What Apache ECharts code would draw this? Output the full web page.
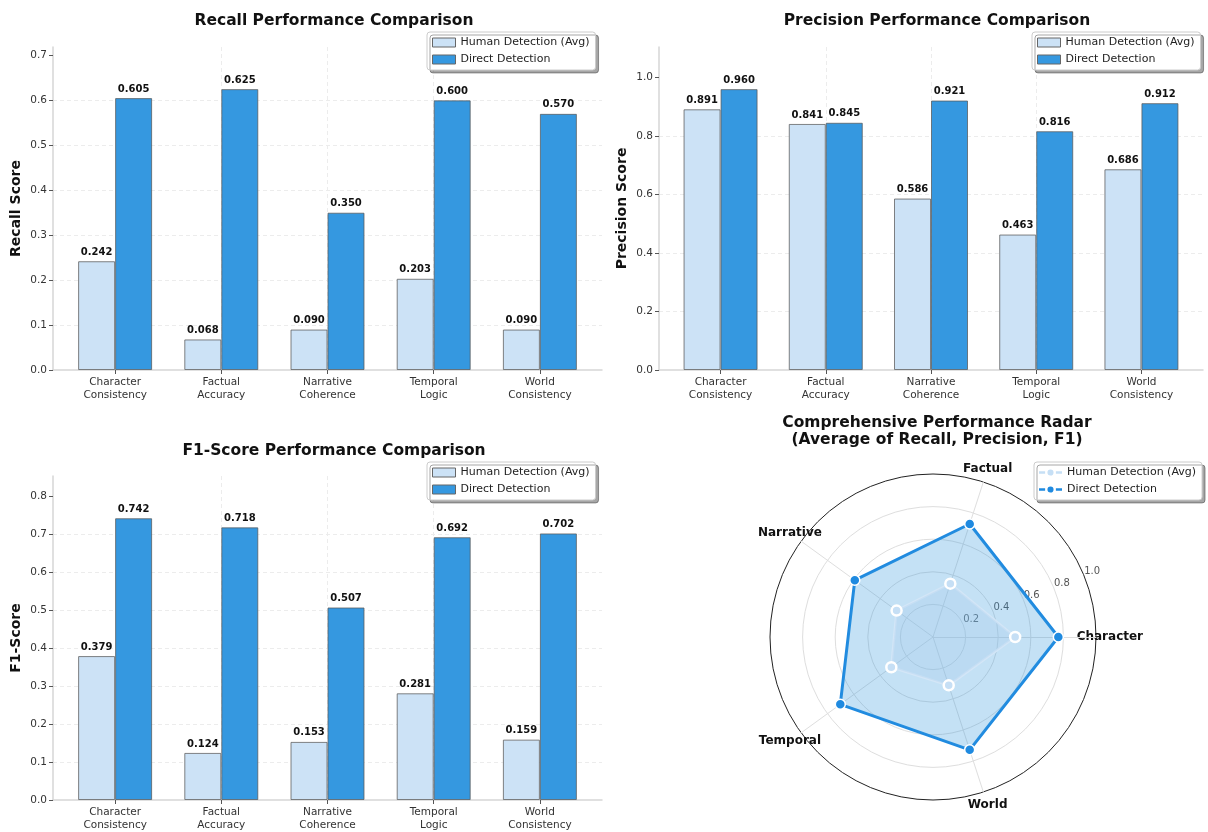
<!DOCTYPE html>
<html>
<head>
<meta charset="utf-8">
<script src="https://cdn.jsdelivr.net/npm/echarts@6/dist/echarts.min.js"></script>
<style>
  html, body { margin: 0; padding: 0; background: #fff; }
  #chart { width: 1208px; height: 832px; }
</style>
</head>
<body>
<div id="chart"></div>
<script>
// Error categories (bar charts) and short names (radar)
const categories = ['Character\nConsistency', 'Factual\nAccuracy', 'Narrative\nCoherence', 'Temporal\nLogic', 'World\nConsistency'];
const radarLabels = ['Character', 'Factual', 'Narrative', 'Temporal', 'World'];

// Recall
const recallHuman = [0.242, 0.068, 0.090, 0.203, 0.090];
const recallDirect = [0.605, 0.625, 0.350, 0.600, 0.570];
// Precision
const precisionHuman = [0.891, 0.841, 0.586, 0.463, 0.686];
const precisionDirect = [0.960, 0.845, 0.921, 0.816, 0.912];
// F1-score
const f1Human = [0.379, 0.124, 0.153, 0.281, 0.159];
const f1Direct = [0.742, 0.718, 0.507, 0.692, 0.702];
// Average of recall, precision and F1 per category
const radarHuman = [0.504, 0.344, 0.276, 0.316, 0.312];
const radarDirect = [0.769, 0.729, 0.593, 0.703, 0.728];

// Tick values
const recallTicks = [0, 0.1, 0.2, 0.3, 0.4, 0.5, 0.6, 0.7];
const precisionTicks = [0, 0.2, 0.4, 0.6, 0.8, 1.0];
const f1Ticks = [0, 0.1, 0.2, 0.3, 0.4, 0.5, 0.6, 0.7, 0.8];

const HUMAN = 'Human Detection (Avg)';
const DIRECT = 'Direct Detection';
const humanColor = '#cce2f6';
const directColor = '#3598e0';
const FONT = 'DejaVu Sans';

const chart = echarts.init(document.getElementById('chart'), null, { renderer: 'canvas' });

const grids = [
  { left: 53, right: 606, top: 47, bottom: 462 },
  { left: 659, right: 5, top: 47, bottom: 462 },
  { left: 53, right: 606, top: 476, bottom: 32 }
];

const catIdx = categories.map((_, i) => i);

function xAxisFor(gi) {
  return {
    type: 'value', gridIndex: gi, min: -0.585, max: categories.length - 1 + 0.585,
    axisLine: { show: true, onZero: false, lineStyle: { color: '#d6d6d6', width: 1.5 } },
    axisTick: { show: true, customValues: catIdx, length: 4, lineStyle: { color: '#555' } },
    axisLabel: {
      customValues: catIdx, margin: 6, color: '#333', fontSize: 10.5, fontFamily: FONT, lineHeight: 13,
      formatter: v => categories[Math.round(v)] || ''
    },
    splitLine: { show: true, showMinLine: false, showMaxLine: false, lineStyle: { color: '#ececec', type: [4, 3] } }
  };
}

function yAxisFor(gi, name, ticks, maxVal, gap) {
  return {
    type: 'value', gridIndex: gi, min: 0, max: maxVal,
    interval: ticks[1] - ticks[0],
    name: name, nameLocation: 'middle', nameGap: gap, nameRotate: 90,
    nameTextStyle: { fontWeight: 'bold', fontSize: 14, color: '#111', fontFamily: FONT },
    axisLine: { show: true, onZero: false, lineStyle: { color: '#d6d6d6', width: 1.5 } },
    axisTick: { show: true, customValues: ticks, length: 4, lineStyle: { color: '#555' } },
    axisLabel: { customValues: ticks, color: '#333', fontSize: 10.5, fontFamily: FONT, margin: 6, formatter: v => v.toFixed(1) },
    splitLine: { show: true, showMaxLine: false, showMinLine: false, lineStyle: { color: '#ececec', type: [4, 3] } }
  };
}

function barSeries(name, vals, gi, color) {
  return {
    type: 'bar', name: name, xAxisIndex: gi, yAxisIndex: gi,
    data: vals.map((v, i) => [i, v]),
    barWidth: 37, barGap: '0%',
    itemStyle: { color: color, borderColor: 'rgba(90,90,90,0.75)', borderWidth: 1 },
    label: {
      show: true, position: 'top', distance: 4, fontSize: 10, fontWeight: 'bold', color: '#111', fontFamily: FONT,
      formatter: p => p.value[1].toFixed(3)
    },
    emphasis: { disabled: true }
  };
}

function legendAt(left, top, lineIcons) {
  const dot = 'path://M0,3.5h8v3H0z M22,3.5h8v3h-8z M15,1a4,4 0 1,0 0.01,0z';
  return {
    left: left, top: top, orient: 'vertical',
    backgroundColor: '#fff', borderColor: '#cccccc', borderWidth: 1, borderRadius: 3,
    shadowColor: 'rgba(0,0,0,0.35)', shadowBlur: 0, shadowOffsetX: 3, shadowOffsetY: 3,
    padding: [5, 6, 5, 5], itemGap: 6, itemWidth: 23, itemHeight: 9,
    textStyle: { fontSize: 11, color: '#222', fontFamily: FONT },
    selectedMode: false,
    data: lineIcons ? [
      { name: HUMAN, icon: dot, itemStyle: { color: '#c6dff5', borderWidth: 0 } },
      { name: DIRECT, icon: dot, itemStyle: { color: '#1f8ae0', borderWidth: 0 } }
    ] : [
      { name: HUMAN, icon: 'rect', itemStyle: { color: humanColor, borderColor: '#666', borderWidth: 1 } },
      { name: DIRECT, icon: 'rect', itemStyle: { color: directColor, borderColor: '#666', borderWidth: 1 } }
    ]
  };
}

const titleStyle = { fontWeight: 'bold', fontSize: 15.5, color: '#111', fontFamily: FONT, lineHeight: 17 };

const maxOf = (a, b) => Math.max(...a, ...b) * 1.15;

const option = {
  animation: false,
  backgroundColor: '#fff',
  title: [
    { text: 'Recall Performance Comparison', left: 329, top: 7, textAlign: 'center', textStyle: titleStyle },
    { text: 'Precision Performance Comparison', left: 932, top: 7, textAlign: 'center', textStyle: titleStyle },
    { text: 'F1-Score Performance Comparison', left: 329, top: 437, textAlign: 'center', textStyle: titleStyle },
    { text: 'Comprehensive Performance Radar\n(Average of Recall, Precision, F1)', left: 932, top: 409, textAlign: 'center', textStyle: titleStyle }
  ],
  legend: [
    legendAt(427, 32, false),
    legendAt(1032, 32, false),
    legendAt(427, 462, false),
    legendAt(1034, 462, true)
  ],
  grid: grids,
  xAxis: [xAxisFor(0), xAxisFor(1), xAxisFor(2)],
  yAxis: [
    yAxisFor(0, 'Recall Score', recallTicks, maxOf(recallHuman, recallDirect), 30),
    yAxisFor(1, 'Precision Score', precisionTicks, maxOf(precisionHuman, precisionDirect), 30),
    yAxisFor(2, 'F1-Score', f1Ticks, maxOf(f1Human, f1Direct), 30)
  ],
  radar: {
    center: [933, 637], radius: 163, startAngle: 0, shape: 'circle', splitNumber: 5,
    indicator: radarLabels.map(n => ({ name: n, min: 0, max: 1 })),
    axisName: { show: false },
    axisLine: { lineStyle: { color: '#dedede', width: 1 } },
    splitLine: { lineStyle: { color: ['#dedede', '#dedede', '#dedede', '#dedede', '#dedede', '#222'], width: 1 } },
    splitArea: { show: false }
  },
  polar: { center: [933, 637], radius: 163 },
  angleAxis: { type: 'value', min: 0, max: 360, startAngle: 22, show: false },
  radiusAxis: {
    type: 'value', min: 0, max: 1, interval: 0.2,
    axisLine: { show: false }, axisTick: { show: false }, splitLine: { show: false },
    axisLabel: {
      color: '#555', fontSize: 10, fontFamily: FONT, margin: 0, align: 'left', verticalAlign: 'bottom',
      formatter: v => v === 0 ? '' : v.toFixed(1)
    }
  },
  series: [
    barSeries(HUMAN, recallHuman, 0, humanColor),
    barSeries(DIRECT, recallDirect, 0, directColor),
    barSeries(HUMAN, precisionHuman, 1, humanColor),
    barSeries(DIRECT, precisionDirect, 1, directColor),
    barSeries(HUMAN, f1Human, 2, humanColor),
    barSeries(DIRECT, f1Direct, 2, directColor),
    {
      type: 'radar', name: HUMAN, z: 3,
      symbol: 'circle', symbolSize: 10,
      data: [{ value: radarHuman, name: HUMAN }],
      lineStyle: { color: '#d3e6f7', width: 2.5 },
      itemStyle: { color: '#c6dff5', borderColor: '#fff', borderWidth: 2.5 },
      areaStyle: { color: 'rgba(160,200,236,0.25)', opacity: 1 },
      emphasis: { disabled: true }
    },
    {
      type: 'radar', name: DIRECT, z: 2,
      symbol: 'circle', symbolSize: 10,
      data: [{ value: radarDirect, name: DIRECT }],
      lineStyle: { color: '#1f8ae0', width: 3 },
      itemStyle: { color: '#1f8ae0', borderColor: '#fff', borderWidth: 1.5 },
      areaStyle: { color: 'rgba(52,152,219,0.29)', opacity: 1 },
      emphasis: { disabled: true }
    }
  ]
};

chart.setOption(option);

// Category names around the radar, centred just outside the outer ring
const radarCoord = chart.getModel().getComponent('radar', 0).coordinateSystem;
chart.setOption({
  graphic: radarLabels.map((n, i) => {
    const p = radarCoord.dataToPoint(1.085, i);
    return {
      type: 'text', x: p[0], y: p[1],
      style: { text: n, fontSize: 12, fontWeight: 'bold', fontFamily: FONT, fill: '#111', align: 'center', verticalAlign: 'middle' }
    };
  })
});
</script>
</body>
</html>
